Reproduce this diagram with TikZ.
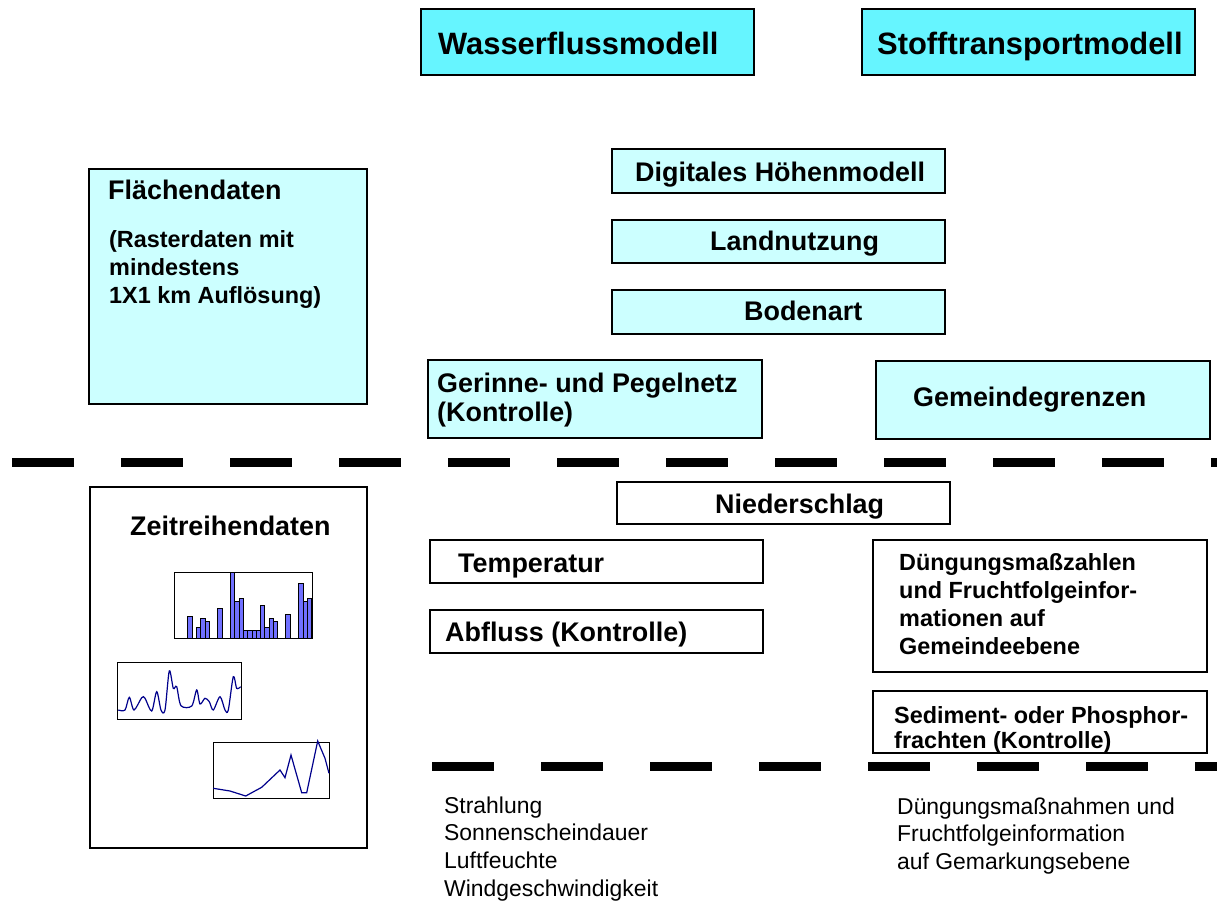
\documentclass[tikz,border=0pt]{standalone}
\usepackage{fontspec}
\setmainfont{Liberation Sans}
\definecolor{cyanT}{RGB}{102,245,255}
\definecolor{cyanL}{RGB}{204,255,255}
\definecolor{barblue}{RGB}{112,112,255}
\definecolor{navyline}{RGB}{0,0,140}
\newcommand\ml[1]{\begin{tabular}[t]{@{}l@{}}#1\end{tabular}}
\tikzset{
 bx/.style 2 args={draw=black, line width=1.5bp, minimum width=#1, minimum height=#2, anchor=north west, inner sep=0pt, outer sep=0pt},
 ttl/.style={fill=cyanT},
 lt/.style={fill=cyanL},
 wt/.style={fill=white},
 bigtxt/.style={anchor=base west, inner sep=0pt, font=\fontsize{31}{37}\selectfont\bfseries},
 medtxt/.style={anchor=base west, inner sep=0pt, font=\fontsize{27}{30}\selectfont\bfseries},
 smtxt/.style={anchor=base west, inner sep=0pt, font=\fontsize{23.5}{28.3}\selectfont\bfseries},
 sedtxt/.style={anchor=base west, inner sep=0pt, font=\fontsize{23.5}{26}\selectfont\bfseries},
 plaintxt/.style={anchor=base west, inner sep=0pt, font=\fontsize{23}{28}\selectfont},
 sepline/.style={line width=9bp, dash pattern=on 62bp off 47bp},
 chartbox/.style={draw=black, line width=0.8bp, anchor=north west, inner sep=0pt, outer sep=0pt},
 bar/.style={draw=black, line width=0.6bp, fill=barblue},
 curve/.style={draw=navyline, line width=1.2bp},
}
\begin{document}
\begin{tikzpicture}[x=1bp, y=-1bp]
\useasboundingbox[fill=white] (0,0) rectangle (1217,903);

% titles
\node[bx={333bp}{66bp}, ttl] (wf) at (421,9) {};
\node[bigtxt] (wft) at (438,54) {Wasserflussmodell};
\node[bx={333bp}{66bp}, ttl] (st) at (862,9) {};
\node[bigtxt] (stt) at (877,54) {Stofftransportmodell};

% Flächendaten
\node[bx={278bp}{235bp}, lt] (fl) at (89,169) {};
\node[medtxt] (flt) at (108,199) {Flächendaten};
\node[smtxt] (flr) at (109,247) {\ml{(Rasterdaten mit\\mindestens\\1X1 km Auflösung)}};

% spatial data boxes
\node[bx={333bp}{44bp}, lt] (dh) at (612,149) {};
\node[medtxt] (dht) at (635,181.5) {Digitales Höhenmodell};
\node[bx={333bp}{43bp}, lt] (ln) at (612,220) {};
\node[medtxt] (lnt) at (710,250) {Landnutzung};
\node[bx={333bp}{44bp}, lt] (bo) at (612,290) {};
\node[medtxt] (bot) at (744,320) {Bodenart};
\node[bx={334bp}{78bp}, lt] (gp) at (428,360) {};
\node[medtxt] (gpt) at (437,392) {\ml{Gerinne- und Pegelnetz\\(Kontrolle)}};
\node[bx={334bp}{78bp}, lt] (gg) at (876,361) {};
\node[medtxt] (ggt) at (913,406) {Gemeindegrenzen};

% separators
\coordinate (d1a) at (12,462);
\coordinate (d1b) at (1217,462);
\draw[sepline] (d1a) -- (d1b);
\coordinate (d2a) at (432,766);
\coordinate (d2b) at (1217,766);
\draw[sepline] (d2a) -- (d2b);

% Zeitreihendaten
\node[bx={277bp}{361bp}, wt] (zr) at (90,487) {};
\node[medtxt] (zrt) at (130,535) {Zeitreihendaten};

% bar chart
\node[chartbox, minimum width=138.5bp, minimum height=66bp] (bc) at (174,572) {};
\foreach \a/\b/\t in {187.7/192.3/616.7, 196.3/200.7/627.7, 200.7/205/618, 205/209.3/621.7,
  217.3/222/608, 230.3/234.7/572, 234.7/239/601.7, 239/243.3/598.3, 243.3/247.7/630.7,
  247.7/252/630.7, 252/256.3/630.7, 256.3/260.3/630.7, 260.3/264.7/605, 264.7/269/627.7,
  269/273.3/618, 273.3/277.7/621.7, 285.7/290.3/614.7, 298.7/303/583, 303/307.3/601.7,
  307.3/311.7/598.3}
  \draw[bar] (\a,638) rectangle (\b,\t);

% line chart 1
\node[chartbox, minimum width=123.5bp, minimum height=57bp] (lc1) at (117.5,662) {};
\draw[curve] plot[smooth, tension=0.5] coordinates {(118.3,710) (125,710) (129.3,697.3) (134,710)
  (141.7,697.7) (145,698.3) (151.7,711) (156.7,691.7) (161,710) (165,710) (169.3,671)
  (173.3,688.3) (176.7,686.7) (181,705.7) (191.7,706) (196.7,690) (200,704) (205,698.3)
  (209.3,701.7) (213.3,710) (220,696.7) (225,710) (228.3,710) (233.3,676.7) (236.7,688.3)
  (240.7,686.7)};

% line chart 2
\node[chartbox, minimum width=116bp, minimum height=56bp] (lc2) at (213,742) {};
\draw[curve] (213.3,788.3) -- (230,791) -- (245.7,796) -- (261.7,787.3) -- (280,770)
  -- (285,777.7) -- (291,755) -- (301.7,792.7) -- (306.7,792.7) -- (317.7,741)
  -- (325,758.3) -- (329,773.3);

% time series boxes
\node[bx={333bp}{42bp}, wt] (ns) at (617,482) {};
\node[medtxt] (nst) at (715,513) {Niederschlag};
\node[bx={333bp}{43bp}, wt] (tp) at (430,540) {};
\node[medtxt] (tpt) at (458,572) {Temperatur};
\node[bx={333bp}{43bp}, wt] (ab) at (430,610) {};
\node[medtxt] (abt) at (445,641) {Abfluss (Kontrolle)};
\node[bx={334bp}{132bp}, wt] (dg) at (873,540) {};
\node[smtxt] (dgt) at (899,570) {\ml{Düngungsmaßzahlen\\und Fruchtfolgeinfor-\\mationen auf\\Gemeindeebene}};
\node[bx={334bp}{62bp}, wt] (sd) at (873,691) {};
\node[sedtxt] (sdt) at (894,723) {\ml{Sediment- oder Phosphor-\\frachten (Kontrolle)}};

% bottom texts
\node[plaintxt] (bl) at (444,813) {\ml{Strahlung\\Sonnenscheindauer\\Luftfeuchte\\Windgeschwindigkeit}};
\node[plaintxt] (br) at (897,814) {\ml{Düngungsmaßnahmen und\\Fruchtfolgeinformation\\auf Gemarkungsebene}};
\end{tikzpicture}
\end{document}
